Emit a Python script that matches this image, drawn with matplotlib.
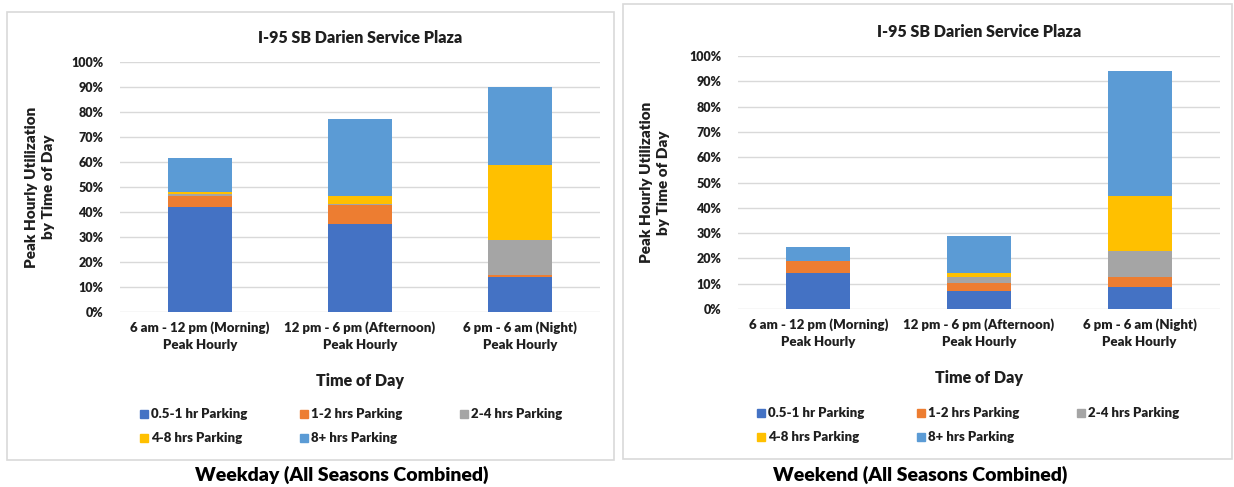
import matplotlib
matplotlib.use("Agg")
import matplotlib.pyplot as plt
import matplotlib.patches as patches
import numpy as np

plt.rcParams['font.family'] = ['Lato', 'DejaVu Sans']

# categorias y series (porcentaje de utilizacion)
categorias = ['6 am - 12 pm (Morning)\nPeak Hourly',
              '12 pm - 6 pm (Afternoon)\nPeak Hourly',
              '6 pm - 6 am (Night)\nPeak Hourly']
series = ['0.5-1 hr Parking', '1-2 hrs Parking', '2-4 hrs Parking',
          '4-8 hrs Parking', '8+ hrs Parking']
colores = ['#4472C4', '#ED7D31', '#A5A5A5', '#FFC000', '#5B9BD5']

# Weekday
wd_05_1 = [42.0, 35.4, 14.2]
wd_1_2 = [4.6, 7.6, 0.8]
wd_2_4 = [0.8, 0.3, 14.0]
wd_4_8 = [0.7, 3.3, 29.9]
wd_8 = [13.4, 30.7, 31.1]

# Weekend
we_05_1 = [14.2, 7.2, 8.7]
we_1_2 = [4.6, 2.9, 4.1]
we_2_4 = [0.0, 2.7, 10.1]
we_4_8 = [0.0, 1.6, 21.9]
we_8 = [5.7, 14.6, 49.1]

W, H = 1234, 487
fig = plt.figure(figsize=(W / 100, H / 100), dpi=100)
fig.patch.set_facecolor('white')
texto = '#1f1f1f'


def px_rect(x0, y0, x1, y1):
    # rectangulo en pixeles (origen arriba a la izquierda) -> coords de figura
    return [x0 / W, 1 - y1 / H, (x1 - x0) / W, (y1 - y0) / H]


def panel(box, axbox, datos, ylab_x, xlab_y, leg_x, leg_y, caption, cap_x):
    # borde del panel
    r = patches.Rectangle((box[0] / W, 1 - box[3] / H), (box[2] - box[0]) / W,
                          (box[3] - box[1]) / H, transform=fig.transFigure,
                          fill=False, edgecolor='#d9d9d9', lw=1.2)
    fig.add_artist(r)

    ax = fig.add_axes(px_rect(*axbox))
    x = np.arange(len(categorias))
    base = np.zeros(len(categorias))
    for vals, c in zip(datos, colores):
        ax.bar(x, vals, 0.4, bottom=base, color=c, zorder=3)
        base = base + np.array(vals)

    ax.set_xlim(-0.5, 2.5)
    ax.set_ylim(0, 100)
    ax.set_yticks(range(0, 101, 10))
    ax.set_yticklabels([f'{v}%' for v in range(0, 101, 10)], fontsize=9,
                       fontweight='heavy', color=texto)
    ax.set_xticks(x)
    ax.set_xticklabels(categorias, fontsize=9.5, fontweight='heavy',
                       color=texto, linespacing=1.5)
    ax.tick_params(axis='both', length=0)
    ax.tick_params(axis='y', pad=12)
    ax.tick_params(axis='x', pad=7)
    ax.grid(axis='y', color='#d9d9d9', lw=1, zorder=0)
    for s in ax.spines.values():
        s.set_visible(False)

    cx = (axbox[0] + axbox[2]) / 2
    fig.text(cx / W, 1 - (axbox[1] - 24) / H, 'I-95 SB Darien Service Plaza',
             ha='center', va='center', fontsize=11.5, fontweight='heavy', color=texto)
    fig.text(ylab_x / W, 1 - (axbox[1] + axbox[3]) / 2 / H,
             'Peak Hourly Utilization\nby Time of Day', rotation=90,
             ha='center', va='center', fontsize=11, fontweight='heavy',
             color=texto, linespacing=1.35)
    fig.text(cx / W, 1 - xlab_y / H, 'Time of Day', ha='center', va='center',
             fontsize=11.5, fontweight='heavy', color=texto)

    # leyenda manual, 3 columnas
    for i, (nombre, c) in enumerate(zip(series, colores)):
        fila, col = divmod(i, 3)
        mx = leg_x + col * 160
        my = leg_y + fila * 24
        fig.add_artist(patches.Rectangle((mx / W, 1 - (my + 4) / H), 8 / W, 8 / H,
                                         transform=fig.transFigure, color=c))
        fig.text((mx + 11) / W, 1 - my / H, nombre, ha='left', va='center',
                 fontsize=9.5, fontweight='heavy', color=texto)

    fig.text(cap_x / W, 1 - 475 / H, caption, ha='center', va='center',
             fontsize=14, fontweight='heavy', color='black')
    return ax


panel((7, 12, 614, 460), (120, 62, 600, 312),
      [wd_05_1, wd_1_2, wd_2_4, wd_4_8, wd_8],
      ylab_x=40, xlab_y=381, leg_x=140, leg_y=414,
      caption='Weekday (All Seasons Combined)', cap_x=342)

panel((623, 4, 1232, 459), (738, 56, 1220, 309),
      [we_05_1, we_1_2, we_2_4, we_4_8, we_8],
      ylab_x=655, xlab_y=378, leg_x=757, leg_y=413,
      caption='Weekend (All Seasons Combined)', cap_x=920)

fig.savefig('out.png', dpi=100, facecolor='white')
